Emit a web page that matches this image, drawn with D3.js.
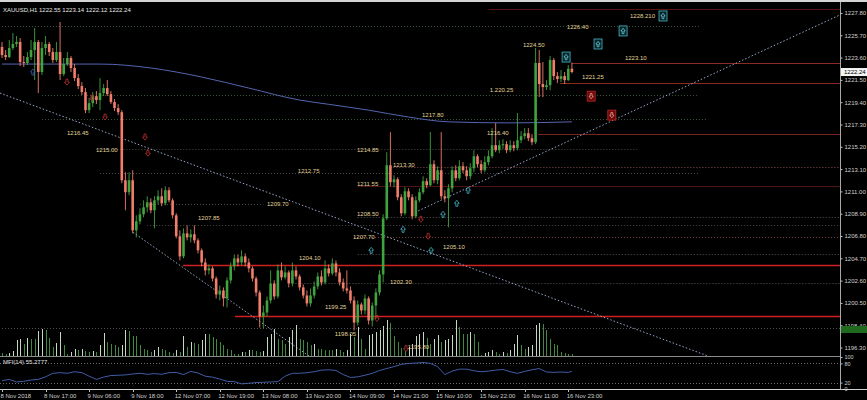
<!DOCTYPE html>
<html><head><meta charset="utf-8">
<script src="https://cdn.jsdelivr.net/npm/d3@7"></script>
<style>html,body{margin:0;padding:0;background:#000;overflow:hidden}text{font-family:"Liberation Sans",Arial,sans-serif}</style>
</head><body><svg id="c" width="867" height="400"></svg>
<script>
// ---------------- DATA ----------------
const titleText = "XAUUSD,H1  1222.55 1223.14 1222.12 1222.24";
const mfiTitle = "MFI(14) 55.2777";
const firstOpen = 1224.60;
const closes = [1223.84,1223.65,1224.50,1224.88,1225.07,1223.18,1223.09,1223.65,1224.31,1225.07,
1222.24,1224.50,1224.88,1224.12,1223.37,1224.12,1222.05,1222.99,1223.56,1222.62,
1221.67,1220.92,1220.35,1218.65,1219.31,1219.97,1219.60,1220.26,1220.73,1220.16,
1219.41,1218.84,1218.46,1212.05,1210.92,1212.05,1207.33,1208.18,1208.84,1209.50,
1209.97,1209.22,1210.16,1210.54,1209.88,1211.11,1210.16,1208.75,1206.77,1204.88,
1207.05,1206.67,1206.96,1206.39,1205.45,1204.31,1203.56,1203.75,1202.80,1201.29,
1201.67,1200.92,1202.62,1203.94,1204.69,1204.31,1204.88,1204.31,1203.75,1202.80,
1201.48,1199.22,1199.60,1200.73,1202.33,1201.11,1203.56,1202.90,1203.37,1202.33,
1203.56,1202.99,1201.96,1201.20,1200.45,1201.20,1202.05,1202.99,1202.43,1203.75,
1203.28,1204.22,1203.37,1202.43,1201.86,1201.67,1200.73,1198.65,1200.35,1199.79,
1200.92,1198.84,1200.26,1201.48,1203.18,1208.46,1213.46,1211.86,1212.14,1210.45,
1208.94,1211.01,1210.45,1208.65,1210.16,1210.92,1211.96,1211.58,1213.56,1212.05,
1212.99,1210.54,1210.35,1211.29,1212.99,1212.24,1213.37,1212.99,1212.43,1213.18,
1214.31,1213.56,1212.99,1213.75,1214.31,1215.35,1214.88,1215.35,1215.45,1214.88,
1215.35,1215.07,1215.82,1216.20,1216.48,1216.01,1215.63,1223.09,1221.11,1220.82,
1221.01,1223.37,1221.86,1221.58,1221.86,1221.48,1222.55,1222.24];
const highs = [1225.07,1224.31,1225.26,1225.92,1225.63,1225.45,1223.75,1224.12,1225.26,1226.39,
1225.26,1225.07,1225.63,1225.07,1224.50,1225.07,1226.95,1223.56,1224.12,1223.75,
1222.99,1222.05,1221.29,1220.73,1219.78,1220.35,1220.45,1221.67,1221.11,1221.48,
1220.45,1219.69,1219.22,1218.65,1212.80,1212.80,1212.99,1208.75,1209.41,1210.16,
1210.54,1210.35,1210.54,1211.11,1211.29,1211.48,1211.39,1210.35,1208.94,1207.33,
1207.52,1207.80,1207.43,1207.80,1206.58,1205.63,1204.69,1204.12,1203.94,1202.99,
1202.14,1201.96,1202.90,1204.31,1205.07,1205.07,1205.45,1205.16,1204.69,1203.94,
1202.99,1201.67,1200.26,1201.11,1203.56,1202.62,1204.12,1204.31,1203.94,1203.56,
1204.31,1203.94,1203.18,1202.24,1201.67,1201.86,1202.52,1203.37,1203.56,1204.50,
1204.12,1204.69,1204.50,1203.75,1202.80,1203.56,1202.05,1201.11,1200.73,1200.54,
1201.29,1201.11,1200.54,1201.86,1203.56,1208.84,1214.69,1216.58,1212.52,1212.33,
1210.73,1211.39,1211.29,1210.73,1210.54,1211.29,1212.43,1212.24,1216.58,1213.94,
1213.37,1216.58,1211.11,1211.67,1213.37,1213.46,1213.94,1213.75,1213.37,1213.65,
1214.88,1214.50,1213.94,1214.31,1214.88,1216.96,1217.43,1215.82,1215.92,1215.73,
1215.82,1215.73,1218.37,1216.67,1216.96,1216.96,1216.39,1224.50,1224.31,1223.18,
1221.48,1223.75,1223.56,1222.24,1222.43,1222.24,1222.90,1223.14];
const lows = [1223.56,1223.37,1223.56,1224.31,1224.60,1222.80,1222.71,1222.90,1223.37,1221.48,
1220.26,1221.96,1223.84,1223.75,1223.09,1223.18,1221.48,1221.86,1222.80,1222.24,
1221.39,1220.63,1220.07,1218.37,1218.37,1218.94,1219.22,1218.65,1219.97,1219.97,
1219.22,1218.56,1218.18,1211.77,1209.22,1210.63,1207.05,1206.67,1207.90,1208.56,
1209.03,1208.94,1207.52,1209.78,1209.60,1209.69,1209.97,1208.46,1206.58,1204.50,
1204.69,1206.39,1206.20,1206.11,1205.16,1203.94,1203.09,1203.18,1202.52,1200.92,
1200.73,1200.16,1200.07,1202.33,1203.56,1203.94,1204.03,1203.94,1203.37,1202.52,
1201.11,1198.18,1198.09,1199.22,1200.45,1200.82,1200.92,1202.62,1202.71,1201.96,
1202.05,1202.71,1201.67,1200.92,1200.16,1200.16,1200.92,1201.77,1202.14,1202.24,
1202.99,1203.09,1202.99,1202.14,1201.58,1201.39,1200.45,1197.90,1198.37,1199.41,
1199.41,1198.46,1198.28,1199.03,1201.20,1202.43,1208.28,1211.48,1211.39,1210.16,
1208.65,1208.75,1210.16,1208.37,1208.46,1209.97,1210.73,1211.29,1211.48,1211.77,
1211.67,1210.26,1209.97,1207.62,1210.92,1211.96,1212.05,1212.71,1212.05,1212.14,
1212.80,1213.28,1212.71,1212.80,1213.46,1214.12,1214.69,1214.60,1214.97,1214.60,
1214.69,1214.78,1214.88,1215.54,1215.92,1215.73,1215.35,1215.45,1219.88,1219.88,
1220.54,1220.54,1221.48,1221.20,1221.29,1221.11,1221.39,1222.12];
const volumes = [300,200,300,500,1600,1700,1200,1800,1700,1700,2500,2700,2600,1800,900,1300,2400,1100,200,400,
700,600,700,500,400,500,400,1100,2300,1400,1200,1100,900,1100,2600,2500,2000,2000,1100,700,
600,400,600,900,700,600,400,300,600,400,2000,900,1400,1300,1200,1600,2200,2200,1900,1700,
1400,1100,700,600,200,200,400,400,600,600,500,400,500,1900,2200,2700,1700,1600,1200,1900,
2600,3100,1700,1600,1400,1100,1200,700,700,600,600,600,700,600,400,600,2200,1900,2900,1700,
700,2100,2200,2400,2600,3000,3600,3300,2000,1400,800,500,900,1200,2000,2200,2400,1800,1200,1700,
2100,1400,1600,1700,2100,3600,2900,2200,2200,2400,2200,1400,100,300,400,600,400,200,400,300,
600,1200,2100,1100,700,900,1100,3100,3300,3200,2600,1700,1200,1100,400,300,200,200];
const maBars = [0,27,41,55,68,82,90,101,112,123,140,157];
const maValues = [1222.99,1222.99,1222.62,1221.77,1220.73,1219.60,1219.20,1218.65,1218.00,1217.55,1217.45,1217.55];
const mfiBars = [0,2,4,6,8,10,12,14,16,18,20,22,24,26,28,30,32,34,36,38,40,42,44,46,48,50,52,54,56,58,
60,62,64,66,68,70,72,74,76,78,80,82,84,86,88,90,92,94,96,98,100,102,104,106,108,110,112,114,116,118,
120,122,124,126,128,130,132,134,136,138,140,142,144,146,148,150,152,154,156,157];
const mfiValues = [26,30,22,24,28,30,38,49,51,49,54,51,40,30,37,42,43,44,47,49,46,48,46,51,52,45,55,50,40,37,
31,24,23,16,18,20,21,22,23,40,49,49,51,54,59,60,58,45,36,38,43,49,58,64,70,77,80,81,83,80,
70,45,56,62,62,57,54,56,59,61,54,49,55,60,64,53,52,53,52,55.28];
const priceTicks = [1227.80,1225.70,1223.60,1221.50,1219.40,1217.30,1215.20,1213.10,1211.00,1208.90,1206.80,1204.70,1202.60,1200.50,1198.40,1196.30];
const currentPrice = 1222.24;
const timeLabelBars = [0,12,24,36,48,60,72,84,96,108,120,132,144,156];
const timeLabels = ["8 Nov 2018","8 Nov 17:00","9 Nov 06:00","9 Nov 18:00","12 Nov 07:00","12 Nov 19:00","13 Nov 08:00","13 Nov 20:00","14 Nov 09:00","14 Nov 21:00","15 Nov 10:00","15 Nov 22:00","16 Nov 11:00","16 Nov 23:00"];
// horizontal levels (price, start bar, end bar; null = to right edge)
const solidLevels = [1228.21,1223.10,1221.25,1216.45,1211.55,1204.10,1199.25];
const solidStart = [134,157,153.7,147.7,98,49.9,64.2];
const dotLevels = [1226.57,1220.07,1217.80,1214.97,1213.28,1212.75,1209.78,1208.56,1207.80,1206.67,1205.07,1202.33,1198.09];
const dotStart = [0,11,11,26,107,27,38,98,40,97,98,80,0];
const dotEnd = [192,192,194,175,null,192,72,null,null,null,null,null,null];
// trend lines
const trendStartBar = [-0.55,36.1,113.8];
const trendStartPrice = [1220.26,1207.14,1209.03];
const trendEndBar = [194.2,84.8,230.8];
const trendEndPrice = [1195.54,1195.44,1227.61];
// price labels
const labelTexts = ["1216.45","1215.00","1212.75","1209.70","1207.85","1214.85","1213.30","1211.55","1208.50","1207.70","1205.10","1204.10","1202.30","1199.25","1198.05","1195.80","1216.40","1217.80","1.220.25","1224.50","1221.25","1223.10","1226.40","1228.210"];
const labelBars = [17.9,25.9,81.5,73.0,54.0,97.8,107.7,97.8,97.8,96.7,121.5,81.8,106.9,89.0,91.7,111.8,133.6,115.7,134.4,143.5,159.8,171.6,155.6,173.0];
const labelPrices = [1216.48,1214.88,1212.90,1209.78,1208.46,1214.88,1213.46,1211.67,1208.84,1206.67,1205.73,1204.69,1202.43,1200.07,1197.61,1196.39,1216.48,1218.18,1220.54,1224.78,1221.77,1223.56,1226.48,1227.52];
// signal markers
const upBoxBars = [155.4,164.2,171.1,182.1];
const upBoxPrices = [1223.65,1224.88,1226.11,1227.52];
const downBoxBars = [162.3,168.0];
const downBoxPrices = [1219.97,1218.18];
const upMarkBars = [101.7,110.5,118.2,121.5,125.3,128.4];
const upMarkPrices = [1205.45,1207.43,1205.45,1208.84,1209.88,1211.11];
const downMarkBars = [17.9,24.8,28.4,39.4,40.2,115.4,117.4,103.3,111.3];
const downMarkPrices = [1221.29,1219.78,1218.00,1216.11,1214.60,1208.37,1206.77,1199.03,1196.20];
const blueMarkBars = [8.5];
const blueMarkPrices = [1222.24];
const mfiLevels = [80,20];

// ---------------- DRAW ----------------
const W=867,H=400,R=840,mainTop=3,mainBot=356,subTop=357,subBot=389;
const svg=d3.select('#c');
svg.append('rect').attr('width',W).attr('height',H).attr('fill','#000');
svg.append('rect').attr('width',W).attr('height',2).attr('fill','#d4d4d4');

const x=d3.scaleLinear().domain([0,157]).range([2,571.9]);
const y=d3.scaleLinear().domain([1195.50,1228.74]).range([mainBot,mainTop]);
const ym=d3.scaleLinear().domain([0,100]).range([subBot,subTop]);
const yv=d3.scaleLinear().domain([0,3600]).range([mainBot,mainBot-36]);

svg.append('clipPath').attr('id','mc').append('rect').attr('x',0).attr('y',mainTop).attr('width',R).attr('height',mainBot-mainTop);
svg.append('clipPath').attr('id','sc').append('rect').attr('x',0).attr('y',subTop).attr('width',R).attr('height',subBot-subTop);
const g=svg.append('g').attr('clip-path','url(#mc)');

// dotted levels
const dotColors=['#3b553b','#3b553b','#3b553b','#4a4a4a','#8a5050','#4a4a4a','#4a4a4a','#555','#4a4a4a','#7a4040','#555','#555','#4f4f4f'];
dotLevels.forEach((p,i)=>{
  g.append('line').attr('x1',x(dotStart[i])).attr('x2',dotEnd[i]==null?R:x(dotEnd[i]))
   .attr('y1',Math.round(y(p))+0.5).attr('y2',Math.round(y(p))+0.5)
   .attr('stroke',dotColors[i]).attr('stroke-width',1).attr('stroke-dasharray','1,2');
});
// solid levels
const solidColors=['#5c1010','#8c2a24','#8c2a24','#7a2420','#4e1414','#d02020','#d02020'];
solidLevels.forEach((p,i)=>{
  g.append('line').attr('x1',x(solidStart[i])).attr('x2',R)
   .attr('y1',Math.round(y(p))+0.5).attr('y2',Math.round(y(p))+0.5)
   .attr('stroke',solidColors[i]).attr('stroke-width',i>=5?1.4:1);
});
// moving average
g.append('path').datum(maBars.map((b,i)=>[b,maValues[i]]))
 .attr('d',d3.line().x(d=>x(d[0])).y(d=>y(d[1])).curve(d3.curveMonotoneX))
 .attr('fill','none').attr('stroke','#5565b0').attr('stroke-width',1);
// trend lines
trendStartBar.forEach((b,i)=>{
  g.append('line').attr('x1',x(b)).attr('y1',y(trendStartPrice[i])).attr('x2',x(trendEndBar[i])).attr('y2',y(trendEndPrice[i]))
   .attr('stroke','#a6b8dc').attr('stroke-width',0.9).attr('stroke-dasharray','1.5,2');
});
// volumes
volumes.forEach((v,i)=>{
  const up = i>0 && v>volumes[i-1];
  const xx=Math.round(x(i))+0.5;
  g.append('line').attr('x1',xx).attr('x2',xx).attr('y1',mainBot).attr('y2',yv(v))
   .attr('stroke',up?'#c4d8c4':'#3f8a3f').attr('stroke-width',1);
});
// candles
const bw=2.6;
closes.forEach((c,i)=>{
  const o = i===0?firstOpen:closes[i-1];
  const up = c>=o;
  const col = up?'#3fa33f':'#f17d6b';
  const cx=x(i);
  g.append('line').attr('x1',cx).attr('x2',cx).attr('y1',y(highs[i])).attr('y2',y(lows[i])).attr('stroke',col).attr('stroke-width',0.9);
  const top=Math.min(y(o),y(c)), hgt=Math.max(1,Math.abs(y(o)-y(c)));
  g.append('rect').attr('x',cx-bw/2).attr('y',top).attr('width',bw).attr('height',hgt).attr('fill',col);
});
// small markers
function arrowPath(cx,cy,dir,s){
  const k=dir*s;
  return `M${cx},${cy-3*k} L${cx+2.4*s},${cy} L${cx+1*s},${cy} L${cx+1*s},${cy+3*k} L${cx-1*s},${cy+3*k} L${cx-1*s},${cy} L${cx-2.4*s},${cy} Z`;
}
upMarkBars.forEach((b,i)=>{
  g.append('path').attr('d',arrowPath(x(b),y(upMarkPrices[i]),1,1)).attr('fill','none').attr('stroke','#48b8c8').attr('stroke-width',0.8);
});
downMarkBars.forEach((b,i)=>{
  g.append('path').attr('d',arrowPath(x(b),y(downMarkPrices[i]),-1,1)).attr('fill','none').attr('stroke','#c03030').attr('stroke-width',0.8);
});
blueMarkBars.forEach((b,i)=>{
  g.append('path').attr('d',arrowPath(x(b),y(blueMarkPrices[i]),1,1)).attr('fill','none').attr('stroke','#4060c0').attr('stroke-width',0.8);
});
upBoxBars.forEach((b,i)=>{
  const cx=x(b), cy=y(upBoxPrices[i]);
  g.append('rect').attr('x',cx-4).attr('y',cy-5).attr('width',8).attr('height',10).attr('fill','#082428').attr('stroke','#4ab8c8').attr('stroke-width',0.8);
  g.append('path').attr('d',arrowPath(cx,cy,1,0.9)).attr('fill','none').attr('stroke','#6ad0e0').attr('stroke-width',0.8);
});
downBoxBars.forEach((b,i)=>{
  const cx=x(b), cy=y(downBoxPrices[i]);
  g.append('rect').attr('x',cx-4).attr('y',cy-5).attr('width',8).attr('height',10).attr('fill','#6a0808').attr('stroke','#c02828').attr('stroke-width',0.8);
  g.append('path').attr('d',arrowPath(cx,cy,-1,0.9)).attr('fill','none').attr('stroke','#e8a0a0').attr('stroke-width',0.8);
});
// price labels
labelTexts.forEach((t,i)=>{
  g.append('text').attr('x',x(labelBars[i])).attr('y',y(labelPrices[i])+2).attr('font-size',6).attr('fill','#e2d49a').text(t);
});

// title
svg.append('text').attr('x',3).attr('y',12).attr('font-size',6).attr('fill','#e8e8e8').text(titleText);

// MFI subwindow
const sg=svg.append('g').attr('clip-path','url(#sc)');
mfiLevels.forEach(l=>{
  sg.append('line').attr('x1',0).attr('x2',R).attr('y1',Math.round(ym(l))+0.5).attr('y2',Math.round(ym(l))+0.5)
   .attr('stroke','#6a6a6a').attr('stroke-dasharray','1,2');
});
sg.append('path').datum(mfiBars.map((b,i)=>[b,mfiValues[i]]))
 .attr('d',d3.line().x(d=>x(d[0])).y(d=>ym(d[1])))
 .attr('fill','none').attr('stroke','#4a66b8').attr('stroke-width',0.9);
svg.append('text').attr('x',3).attr('y',364).attr('font-size',6).attr('fill','#e0e0e0').text(mfiTitle);

// frame lines
svg.append('line').attr('x1',0).attr('x2',R).attr('y1',mainBot+0.5).attr('y2',mainBot+0.5).attr('stroke','#8a8a8a');
svg.append('line').attr('x1',0).attr('x2',W).attr('y1',subBot+0.5).attr('y2',subBot+0.5).attr('stroke','#d0d0d0');
svg.append('line').attr('x1',R+0.5).attr('x2',R+0.5).attr('y1',2).attr('y2',subBot).attr('stroke','#a8a8a8');

// right price axis
const ax=svg.append('g').attr('transform',`translate(${R+0.5},0)`)
  .call(d3.axisRight(y).tickValues(priceTicks).tickFormat(d3.format('.2f')).tickSize(2).tickPadding(2));
ax.select('.domain').remove();
ax.selectAll('line').attr('stroke','#c0c0c0');
ax.selectAll('text').attr('font-size',6).attr('fill','#d0d0d0').attr('font-family','Liberation Sans, Arial, sans-serif');
// green volume value box
svg.append('rect').attr('x',R+1).attr('y',yv(0)-30).attr('width',W-R-1).attr('height',7).attr('fill','#1f6a1f');
// current price box
svg.append('rect').attr('x',R+1).attr('y',y(currentPrice)-4).attr('width',W-R-1).attr('height',8).attr('fill','#f4f4f4');
svg.append('text').attr('x',R+4).attr('y',y(currentPrice)+2).attr('font-size',6).attr('fill','#000').text(d3.format('.2f')(currentPrice));

// MFI axis labels
const mx=svg.append('g').attr('transform',`translate(${R+0.5},0)`)
  .call(d3.axisRight(ym).tickValues([100,80,20,0]).tickSize(2).tickPadding(2));
mx.select('.domain').remove();
mx.selectAll('line').attr('stroke','#c0c0c0');
mx.selectAll('text').attr('font-size',5.5).attr('fill','#d0d0d0');

// time axis
timeLabelBars.forEach((b,i)=>{
  const xx=Math.round(x(b))+0.5;
  svg.append('line').attr('x1',xx).attr('x2',xx).attr('y1',subBot).attr('y2',subBot+3).attr('stroke','#c0c0c0');
  svg.append('text').attr('x',x(b)-1.5).attr('y',398).attr('font-size',6).attr('fill','#d0d0d0').text(timeLabels[i]);
});
</script></body></html>
